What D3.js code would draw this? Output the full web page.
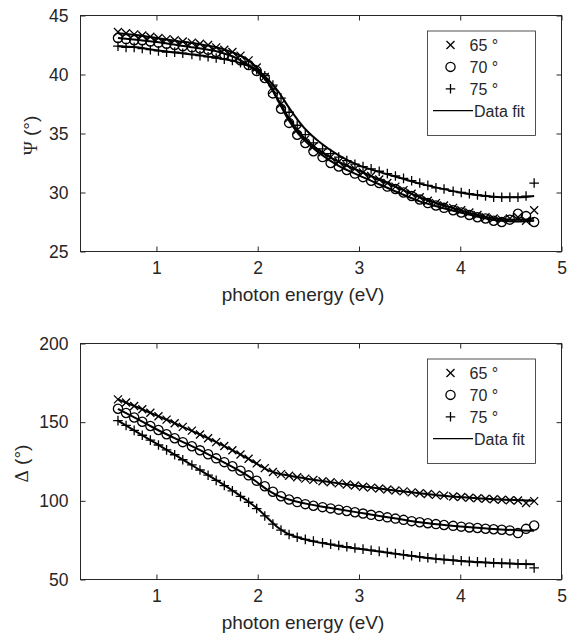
<!DOCTYPE html>
<html lang="en">
<head>
<meta charset="utf-8">
<title>Ellipsometry Psi / Delta</title>
<script src="https://d3js.org/d3.v7.min.js"></script>
<style>
  body { margin: 0; background: #fff; }
  svg { display: block; }
  text { font-family: "Liberation Sans", Arial, sans-serif; fill: #262626; }
  .tick line, .box { stroke: #262626; }
</style>
</head>
<body>
<script>
// measured points (eV)
var energy = [0.62,0.70,0.78,0.86,0.94,1.02,1.10,1.18,1.26,1.35,1.43,1.51,1.59,1.67,1.75,1.83,1.91,1.99,2.07,2.15,
  2.23,2.31,2.39,2.47,2.55,2.64,2.72,2.80,2.88,2.96,3.04,3.12,3.20,3.28,3.36,3.44,3.52,3.60,3.68,3.76,
  3.84,3.93,4.01,4.09,4.17,4.25,4.33,4.41,4.49,4.57,4.65,4.73];

var psi65 = [43.6,43.5,43.4,43.3,43.2,43.1,43.0,42.9,42.8,42.7,42.6,42.5,42.3,42.1,41.9,41.6,41.2,40.6,39.8,38.7,
  37.5,36.3,35.3,34.5,33.9,33.4,33.0,32.6,32.3,32.0,31.7,31.4,31.1,30.8,30.5,30.2,29.9,29.6,29.3,29.1,
  28.9,28.7,28.5,28.3,28.1,27.9,27.8,27.7,27.8,27.9,27.6,28.5];
var psi70 = [43.1,43.0,42.9,42.9,42.8,42.7,42.6,42.5,42.4,42.3,42.2,42.1,41.9,41.7,41.5,41.2,40.8,40.3,39.7,38.4,
  37.1,35.9,34.9,34.2,33.5,33.0,32.5,32.2,31.9,31.6,31.3,31.0,30.8,30.5,30.3,30.0,29.7,29.4,29.1,28.9,
  28.7,28.5,28.3,28.1,27.9,27.8,27.6,27.5,27.7,28.2,28.0,27.5];
var psi75 = [42.4,42.3,42.3,42.2,42.1,42.0,41.9,41.9,41.8,41.7,41.6,41.5,41.4,41.3,41.2,41.0,40.8,40.4,39.9,39.1,
  38.0,36.8,35.7,34.9,34.2,33.7,33.3,33.0,32.7,32.4,32.2,32.0,31.8,31.6,31.4,31.2,31.0,30.8,30.6,30.4,
  30.3,30.1,30.0,29.9,29.8,29.7,29.6,29.6,29.6,29.6,29.7,30.8];

var delta65 = [164.5,162.5,160.3,158.2,156.0,153.8,151.6,149.3,147.0,144.6,142.2,139.8,137.3,134.8,132.2,129.5,126.7,123.8,120.8,118.3,
  117.0,115.9,115.0,114.1,113.3,112.5,111.8,111.1,110.4,109.7,109.0,108.4,107.8,107.2,106.6,106.0,105.4,104.8,104.3,103.8,
  103.3,102.8,102.4,102.0,101.6,101.3,101.0,100.7,100.4,100.2,98.6,99.8];
var delta70 = [158.5,155.8,153.0,150.3,147.6,145.0,142.3,139.8,137.3,134.7,132.1,129.6,127.0,124.6,122.0,119.2,116.2,112.8,109.3,105.8,
  102.9,100.8,99.2,97.9,96.9,96.0,95.2,94.4,93.5,92.7,91.9,91.1,90.3,89.5,88.7,87.9,87.1,86.4,85.8,85.2,
  84.6,84.1,83.6,83.1,82.7,82.3,81.9,81.6,81.2,79.5,82.2,84.3];
var delta75 = [151.0,147.9,144.8,141.7,138.6,135.5,132.4,129.3,126.1,122.8,119.6,116.3,113.0,109.7,106.3,102.8,99.1,95.1,90.4,85.2,
  81.4,78.6,76.9,75.5,74.4,73.4,72.5,71.6,70.8,70.0,69.3,68.6,67.9,67.2,66.5,65.8,65.1,64.4,63.8,63.3,
  62.8,62.3,61.9,61.5,61.2,60.9,60.6,60.4,60.2,60.0,59.7,57.4];

// model curves
var fitEnergy = [0.62,0.8,1.0,1.2,1.4,1.6,1.8,1.9,2.0,2.1,2.2,2.3,2.4,2.5,2.6,2.8,3.0,3.2,3.4,3.6,3.8,4.0,4.2,4.4,4.6,4.73];
var psiFit65 = [43.5,43.35,43.1,42.85,42.6,42.3,41.7,41.25,40.5,39.4,37.9,36.4,35.2,34.3,33.6,32.6,31.85,31.1,30.35,29.6,29.0,28.5,28.05,27.75,27.7,27.8];
var psiFit70 = [43.1,42.95,42.75,42.5,42.25,41.95,41.35,40.85,40.2,39.3,37.8,36.2,35.0,34.1,33.4,32.25,31.45,30.7,29.95,29.25,28.75,28.3,27.9,27.6,27.55,27.6];
var psiFit75 = [42.4,42.3,42.05,41.85,41.65,41.4,41.05,40.75,40.3,39.6,38.6,37.3,36.1,35.1,34.35,33.15,32.3,31.75,31.25,30.75,30.35,30.0,29.75,29.6,29.6,29.7];
var deltaFit65 = [164.5,159.8,154.3,148.8,143.0,137.0,130.5,127.0,123.2,119.5,117.4,116.1,115.0,113.9,112.9,111.1,109.5,107.8,106.3,104.8,103.4,102.4,101.5,100.8,100.3,100.1];
var deltaFit70 = [158.5,152.4,145.5,139.2,133.2,126.6,119.8,116.0,111.5,106.8,103.3,101.0,99.3,97.9,96.7,94.6,92.5,90.4,88.4,86.4,84.9,83.7,82.7,81.8,81.2,81.0];
var deltaFit75 = [151.0,144.0,136.3,128.6,120.7,112.8,104.4,99.9,94.9,88.9,83.0,79.0,76.7,75.0,73.6,71.3,69.5,67.8,66.0,64.3,62.9,61.8,60.9,60.3,59.9,59.7];

var xTicks = [1, 2, 3, 4, 5];
var psiTicks = [25, 30, 35, 40, 45];
var deltaTicks = [50, 100, 150, 200];
var markerTypes = ["x", "o", "+"];
var legendLabels = ["65 °", "70 °", "75 °", "Data fit"];

var width = 568, height = 637;
var svg = d3.select("body").append("svg").attr("width", width).attr("height", height);

function markerPath(type) {
  if (type == "x") return "M-4,-4L4,4M-4,4L4,-4";
  if (type == "+") return "M-4.8,0L4.8,0M0,-4.8L0,4.8";
  return d3.symbol().type(d3.symbolCircle).size(Math.PI * 4.6 * 4.6)();
}

function panel(top, bottom, yDomain, yTicks, series, fits, symbol) {
  var x = d3.scaleLinear().domain([0.25, 5]).range([80.5, 561.5]);
  var y = d3.scaleLinear().domain(yDomain).range([bottom, top]);
  var g = svg.append("g");

  g.append("g").attr("transform", "translate(0," + bottom + ")")
    .call(d3.axisBottom(x).tickValues(xTicks).tickFormat(d3.format("d")).tickSizeInner(-5).tickSizeOuter(0).tickPadding(10))
    .call(s => s.select(".domain").remove());
  g.append("g").attr("transform", "translate(0," + top + ")")
    .call(d3.axisTop(x).tickValues(xTicks).tickSizeInner(-5).tickSizeOuter(0).tickFormat(""))
    .call(s => s.select(".domain").remove());
  g.append("g").attr("transform", "translate(80.5,0)")
    .call(d3.axisLeft(y).tickValues(yTicks).tickFormat(d3.format("d")).tickSizeInner(-5).tickSizeOuter(0).tickPadding(12))
    .call(s => s.select(".domain").remove());
  g.append("g").attr("transform", "translate(561.5,0)")
    .call(d3.axisRight(y).tickValues(yTicks).tickSizeInner(-5).tickSizeOuter(0).tickFormat(""))
    .call(s => s.select(".domain").remove());
  g.selectAll(".tick text").attr("font-size", 17.5).attr("font-family", "Liberation Sans, Arial, sans-serif").attr("fill", "#262626");

  g.append("rect").attr("class", "box")
    .attr("x", 80.5).attr("y", top).attr("width", 481).attr("height", bottom - top)
    .attr("fill", "none").attr("stroke-width", 1);

  var line = d3.line().x(d => x(d[0])).y(d => y(d[1])).curve(d3.curveMonotoneX);
  fits.forEach(function(f) {
    g.append("path").datum(fitEnergy.map((e, i) => [e, f[i]]))
      .attr("d", line).attr("fill", "none").attr("stroke", "#000").attr("stroke-width", 2);
  });

  series.forEach(function(s, k) {
    g.append("g").selectAll("path")
      .data(energy.map((e, i) => [e, s[i]]))
      .join("path")
      .attr("transform", d => "translate(" + x(d[0]) + "," + y(d[1]) + ")")
      .attr("d", markerPath(markerTypes[k]))
      .attr("fill", "none").attr("stroke", "#000").attr("stroke-width", 1.3);
  });

  g.append("text")
    .attr("x", 303).attr("y", bottom + 49)
    .attr("text-anchor", "middle").attr("font-size", 19)
    .text("photon energy (eV)");

  var lab = g.append("text")
    .attr("transform", "translate(" + (symbol == "Ψ" ? 37 : 28) + "," + ((top + bottom) / 2 + 2) + ") rotate(-90)")
    .attr("text-anchor", "middle").attr("font-size", 19);
  lab.append("tspan").attr("font-family", "Liberation Serif, serif").text(symbol);
  lab.append("tspan").text(" (°)");

  // legend
  var lg = g.append("g").attr("transform", "translate(427.5," + (top + 15.5) + ")");
  lg.append("rect").attr("class", "box").attr("width", 108).attr("height", 104.5)
    .attr("fill", "#fff").attr("stroke-width", 0.8);
  legendLabels.forEach(function(t, i) {
    var cy = 14 + i * 21.9;
    if (i < 3) {
      lg.append("path").attr("transform", "translate(23," + cy + ")")
        .attr("d", markerPath(markerTypes[i])).attr("fill", "none").attr("stroke", "#000").attr("stroke-width", 1.3);
    } else {
      lg.append("line").attr("x1", 5.5).attr("x2", 45.5).attr("y1", cy).attr("y2", cy)
        .attr("stroke", "#000").attr("stroke-width", 1.3);
    }
    lg.append("text").attr("x", i < 3 ? 42 : 46.5).attr("y", cy + 5.8).attr("font-size", 16).text(t);
  });
}

panel(15.5, 251.5, [25, 45], psiTicks, [psi65, psi70, psi75], [psiFit65, psiFit70, psiFit75], "Ψ");
panel(343.5, 579.5, [50, 200], deltaTicks, [delta65, delta70, delta75], [deltaFit65, deltaFit70, deltaFit75], "Δ");
</script>
</body>
</html>
